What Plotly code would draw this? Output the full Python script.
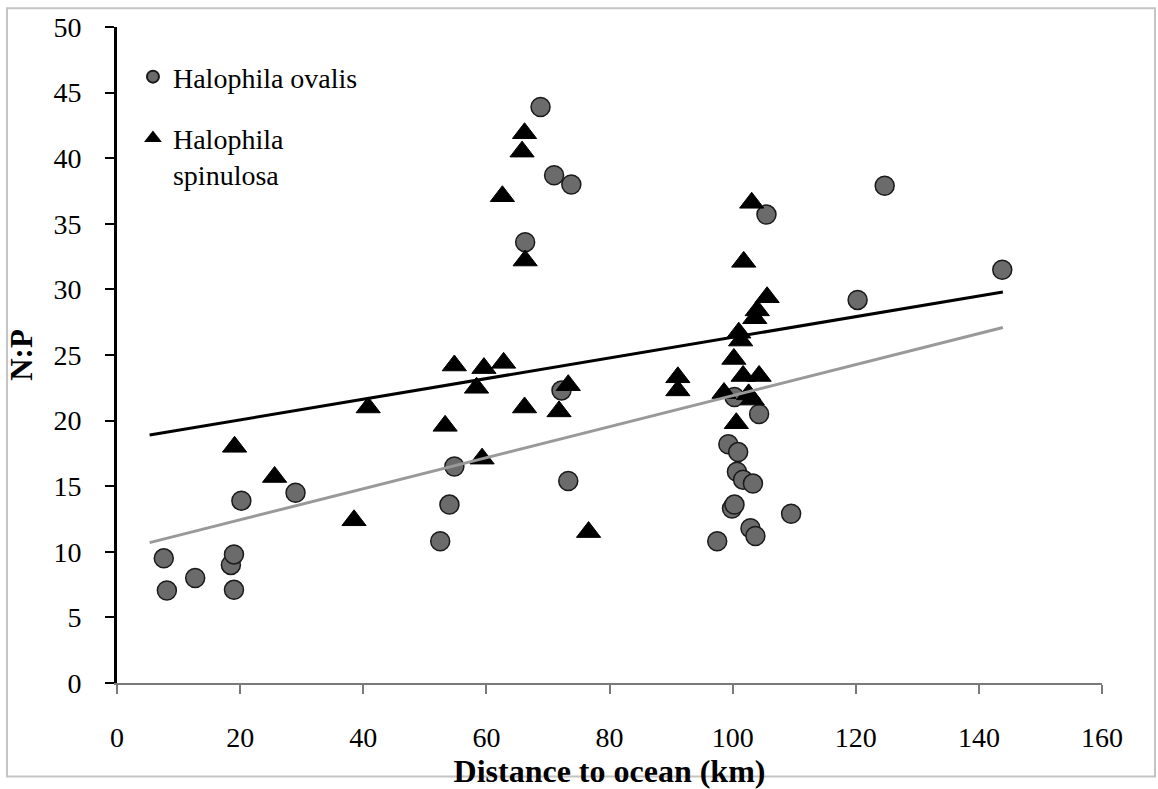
import plotly.graph_objects as go

# Halophila ovalis (circles)
ovalis_x = [7.6, 8.1, 12.7, 18.5, 19.0, 19.0, 20.2, 29.0, 52.5, 54.0, 54.8, 66.3, 68.8, 71.0,
            72.2, 73.3, 73.8, 97.5, 99.3, 99.9, 100.3, 100.3, 100.7, 100.9, 101.7, 102.9,
            103.3, 103.7, 104.3, 105.5, 109.5, 120.3, 124.7, 143.8]
ovalis_y = [9.5, 7.05, 8.0, 9.0, 9.8, 7.1, 13.9, 14.5, 10.8, 13.6, 16.5, 33.6, 43.9, 38.7,
            22.3, 15.4, 38.0, 10.8, 18.2, 13.3, 13.6, 21.8, 16.1, 17.6, 15.5, 11.8,
            15.2, 11.2, 20.5, 35.7, 12.9, 29.2, 37.9, 31.5]

# Halophila spinulosa (triangles)
spin_x = [19.1, 25.6, 38.5, 40.8, 53.3, 54.8, 58.4, 59.3, 59.6, 62.6, 62.8, 65.8, 66.2, 66.3,
          66.2, 71.8, 73.3, 76.6, 91.1, 91.1, 98.6, 100.2, 100.6, 101.0, 101.3, 101.7,
          101.8, 102.6, 103.1, 103.2, 103.6, 104.0, 104.3, 105.6]
spin_y = [18.0, 15.7, 12.4, 21.0, 19.6, 24.2, 22.5, 17.1, 24.0, 37.1, 24.4, 40.5, 41.9, 32.2,
          21.0, 20.7, 22.7, 11.5, 23.3, 22.3, 22.1, 24.7, 19.8, 26.7, 26.1, 23.4,
          32.1, 22.0, 36.6, 21.6, 27.8, 28.4, 23.4, 29.4]

# Linear trend lines (endpoints)
trend_x = [5.3, 143.9]
ovalis_trend_y = [10.7, 27.1]
spin_trend_y = [18.9, 29.8]

x_ticks = [0, 20, 40, 60, 80, 100, 120, 140, 160]
y_ticks = [0, 5, 10, 15, 20, 25, 30, 35, 40, 45, 50]

FONT = "Liberation Serif"

fig = go.Figure()

fig.add_trace(go.Scatter(
    x=ovalis_x, y=ovalis_y, mode="markers", name="Halophila ovalis", legendgroup="ov",
    marker=dict(symbol="circle", size=19, color="#6b6b6b",
                line=dict(color="#1a1a1a", width=1.5)),
))
fig.add_trace(go.Scatter(
    x=spin_x, y=spin_y, mode="markers", name="Halophila<br>spinulosa", legendgroup="sp",
    marker=dict(symbol="triangle-up", size=21, color="#000000",
                line=dict(color="#000000", width=1)),
))
fig.add_trace(go.Scatter(
    x=trend_x, y=spin_trend_y, mode="lines", showlegend=False, legendgroup="sp",
    line=dict(color="#000000", width=3), hoverinfo="skip",
))
fig.add_trace(go.Scatter(
    x=trend_x, y=ovalis_trend_y, mode="lines", showlegend=False, legendgroup="ov",
    line=dict(color="#999999", width=3), hoverinfo="skip",
))

fig.update_layout(
    width=1158, height=789,
    margin=dict(l=117, r=56, t=24, b=98),
    paper_bgcolor="white", plot_bgcolor="white",
    font=dict(family=FONT, color="#000000", size=26),
    showlegend=True,
    legend=dict(
        x=0.0162, y=0.962, xanchor="left", yanchor="top",
        bgcolor="rgba(0,0,0,0)", font=dict(family=FONT, size=28, color="#000000"),
        valign="top", tracegroupgap=22, itemsizing="constant",
    ),
    xaxis=dict(
        range=[0, 160], tickvals=x_ticks, ticktext=[str(v) for v in x_ticks],
        showgrid=False, zeroline=False, showline=True, linecolor="#7a7a7a", linewidth=2,
        ticks="outside", ticklen=9, tickwidth=2, tickcolor="#7a7a7a",
        tickfont=dict(family=FONT, size=28, color="#000000"),
        ticklabelstandoff=19,
        title=dict(text="<b>Distance to ocean (km)</b>",
                   font=dict(family=FONT, size=32, color="#000000"), standoff=2),
        fixedrange=True,
    ),
    yaxis=dict(
        range=[0, 50], tickvals=y_ticks, ticktext=[str(v) for v in y_ticks],
        showgrid=False, zeroline=False, showline=True, linecolor="#000000", linewidth=3,
        ticks="outside", ticklen=9, tickwidth=2, tickcolor="#000000",
        tickfont=dict(family=FONT, size=28, color="#000000"),
        ticklabelstandoff=18,
        title=dict(text="<b>N:P</b>",
                   font=dict(family=FONT, size=31, color="#000000"), standoff=12),
        fixedrange=True,
    ),
    shapes=[dict(type="rect", xref="paper", yref="paper",
                 x0=-0.1117, x1=1.0538, y0=-0.1424, y1=1.0285,
                 line=dict(color="#c4c4c4", width=2), fillcolor="rgba(0,0,0,0)",
                 layer="below")],
)

fig.write_html("out.html")
